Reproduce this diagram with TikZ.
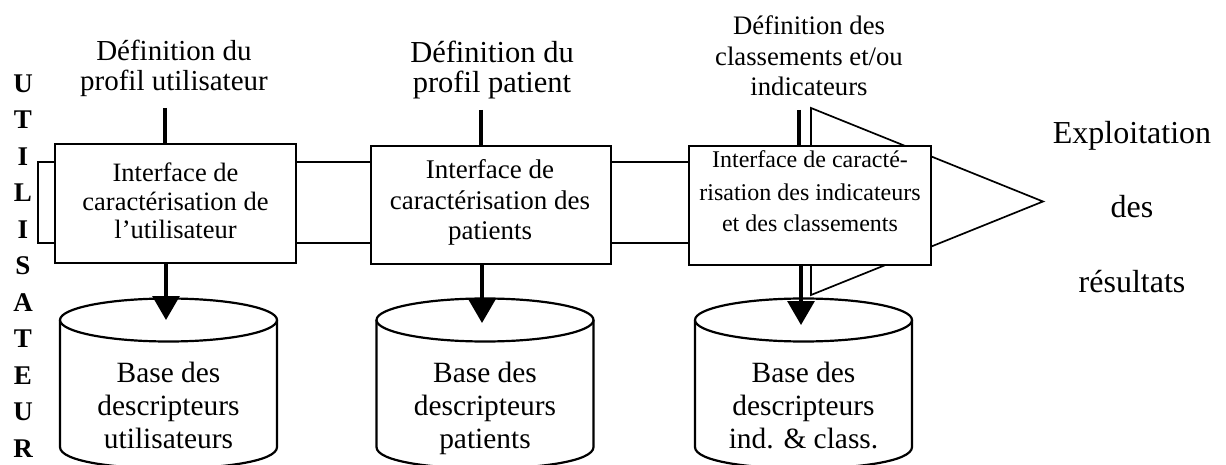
\documentclass[tikz,border=0pt]{standalone}
\usepackage{fontspec}
\setmainfont{Liberation Serif}
\usetikzlibrary{arrows.meta}
\tikzset{
  pics/dbcyl/.style={code={
    \draw[cylstyle] (-108.5,0) -- (-108.5,127) .. controls (-108.5,155.7) and (108.5,155.7) .. (108.5,127) -- (108.5,0);
    \draw[cylstyle] (0,0) ellipse [x radius=108.5pt, y radius=21.5pt];
  }}
}
\begin{document}
\begin{tikzpicture}[x=1pt,y=-1pt,
  every node/.style={inner sep=0pt, outer sep=0pt},
  box/.style={draw, line width=2.2pt, fill=white, rectangle},
  thinline/.style={line width=1.7pt, line join=miter},
  conn/.style={line width=3.2pt},
  arr/.style={line width=3.2pt, -{Triangle[width=27pt,length=24pt]}},
  cylstyle/.style={draw, line width=2.2pt, fill=white},
  lab/.style={align=center, anchor=base},
]
\useasboundingbox (0,0) rectangle (1226,465);
\clip (0,0) rectangle (1226,465);

% block arrow (hollow)
\draw[thinline] (38,162) -- (811,162) -- (811,108) -- (1043,201.5) -- (811,295) -- (811,243) -- (38,243) -- cycle;

% boxes
\node[box, minimum width=241pt, minimum height=119pt] (b1) at (175.5,203.5) {};
\node[box, minimum width=240pt, minimum height=118pt] (b2) at (491,205) {};
\node[box, minimum width=242pt, minimum height=119pt] (b3) at (810,205.5) {};

\node[lab, font=\fontsize{26.5}{28}\selectfont] (t1) at (175.5,238) {Interface de\\caractérisation de\\l’utilisateur};
\node[lab, font=\fontsize{27}{30.5}\selectfont] (t2) at (490,240) {Interface de\\caractérisation des\\patients};
\node[lab, font=\fontsize{24}{32}\selectfont] (t3) at (810,232) {Interface de caracté-\\risation des indicateurs\\et des classements};

% top labels
\node[lab, font=\fontsize{29}{30}\selectfont] (l1) at (174,91) {Définition du\\profil utilisateur};
\node[lab, font=\fontsize{30.5}{30.5}\selectfont] (l2) at (492,93) {Définition du\\profil patient};
\node[lab, font=\fontsize{26.7}{30.5}\selectfont] (l3) at (809,96) {Définition des\\classements et/ou\\indicateurs};

% connectors from labels
\coordinate (u1) at (165,108);
\coordinate (u2) at (481,110);
\coordinate (u3) at (799,110);
\draw[conn] (u1) -- (u1 |- b1.north);
\draw[conn] (u2) -- (u2 |- b2.north);
\draw[conn] (u3) -- (u3 |- b3.north);

% cylinders
\pic at (168.5,320) {dbcyl};
\pic at (485,320) {dbcyl};
\pic at (803.5,320) {dbcyl};
\coordinate (c1) at (166,320);
\coordinate (c2) at (482,323);
\coordinate (c3) at (801,325);

\node[lab, font=\fontsize{29.4}{33}\selectfont] (db1) at (168.5,448) {Base des\\descripteurs\\utilisateurs};
\node[lab, font=\fontsize{29.4}{33}\selectfont] (db2) at (485,448) {Base des\\descripteurs\\patients};
\node[lab, font=\fontsize{29.4}{33}\selectfont] (db3) at (803.5,448) {Base des\\descripteurs\\ind. \& class.};

% arrows into the bases
\draw[arr] (c1 |- b1.south) -- (c1);
\draw[arr] (c2 |- b2.south) -- (c2);
\draw[arr] (c3 |- b3.south) -- (c3);

% result text
\node[lab, font=\fontsize{32}{74.5}\selectfont] (res) at (1132,292) {Exploitation\\des\\résultats};

% vertical user word
\node[lab, font=\fontsize{27}{36.5}\selectfont\bfseries] (usr) at (23,457) {U\\T\\I\\L\\I\\S\\A\\T\\E\\U\\R};
\end{tikzpicture}
\end{document}
